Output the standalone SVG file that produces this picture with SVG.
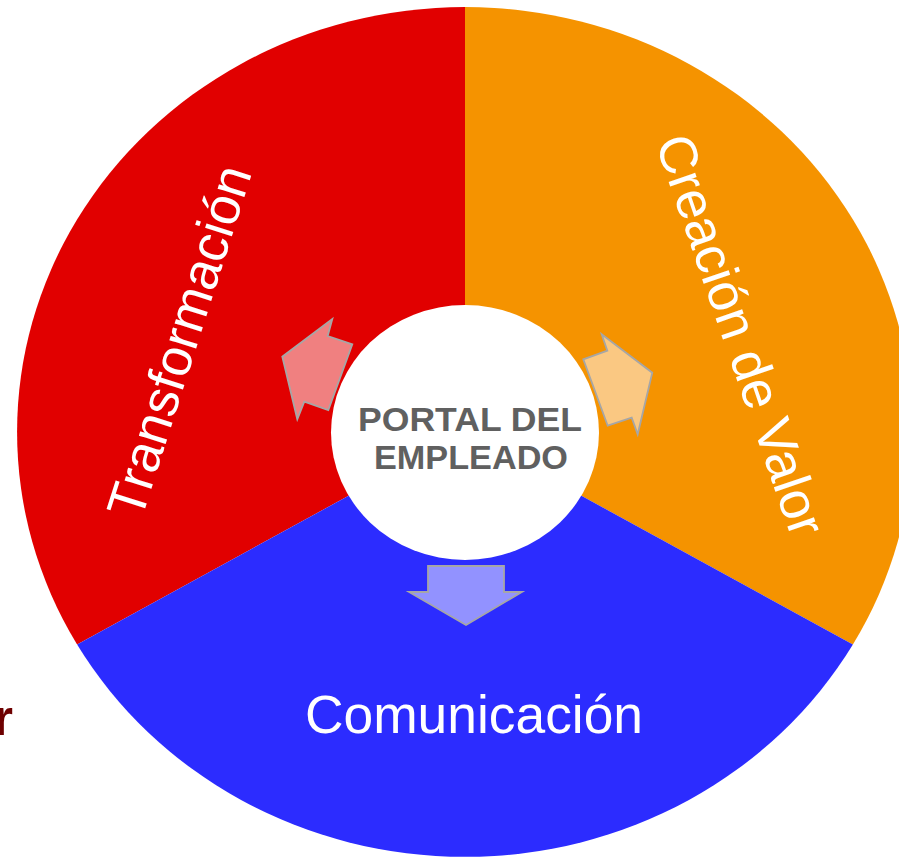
<svg xmlns="http://www.w3.org/2000/svg" width="899" height="857" viewBox="0 0 899 857">
  <style>
    .label { font-family: "Liberation Sans", Arial, sans-serif; fill: #ffffff; font-size: 53px; text-anchor: middle; }
    .center { font-family: "Liberation Sans", Arial, sans-serif; fill: #606060; font-size: 33px; font-weight: bold; text-anchor: middle; }
    .arrow { stroke: #a6a6a6; stroke-width: 1.8; stroke-linejoin: miter; }
  </style>
  <rect width="899" height="857" fill="#ffffff"/>
  <g id="node-transformacion">
    <path d="M465,432 L465,7 A448,425 0 0,0 77.1,644.5 Z" fill="#e10000"/>
    <text class="label" transform="translate(196.6,346.8) rotate(-72.3)">Transformación</text>
  </g>
  <g id="node-creacion">
    <path d="M465,432 L465,7 A448,425 0 0,1 852.9,644.5 Z" fill="#f59300"/>
    <text class="label" transform="translate(723.5,341) rotate(71)">Creación de Valor</text>
  </g>
  <g id="node-comunicacion">
    <path d="M465,432 L77.1,644.5 A448,425 0 0,0 852.9,644.5 Z" fill="#2c2cff"/>
    <text class="label" x="474" y="733" textLength="338" lengthAdjust="spacingAndGlyphs">Comunicación</text>
  </g>
  <g id="node-portal">
    <ellipse cx="465" cy="432.5" rx="134" ry="127.5" fill="#ffffff"/>
    <text class="center" x="470" y="431" textLength="224" lengthAdjust="spacingAndGlyphs">PORTAL DEL</text>
    <text class="center" x="471" y="469" textLength="194" lengthAdjust="spacingAndGlyphs">EMPLEADO</text>
  </g>
  <g id="connectors">
    <polygon class="arrow" fill="#f08080" points="332.3,319 327.7,336 352.3,344.3 328.3,410 304.3,401.7 297.3,419.3 282.3,356.7"/>
    <polygon class="arrow" fill="#fac882" points="601.7,334.3 607.3,350.7 583.3,359.3 607.7,425.7 631.7,417.7 637.7,434.3 652.3,372.7"/>
    <polygon class="arrow" fill="#9292ff" points="428,566 504,566 504,592 522,592 466,625 409,592 428,592"/>
  </g>
  <text x="-6.5" y="735" font-family="Liberation Sans, Arial, sans-serif" font-size="50" font-weight="bold" fill="#6e0000">r</text>
</svg>
